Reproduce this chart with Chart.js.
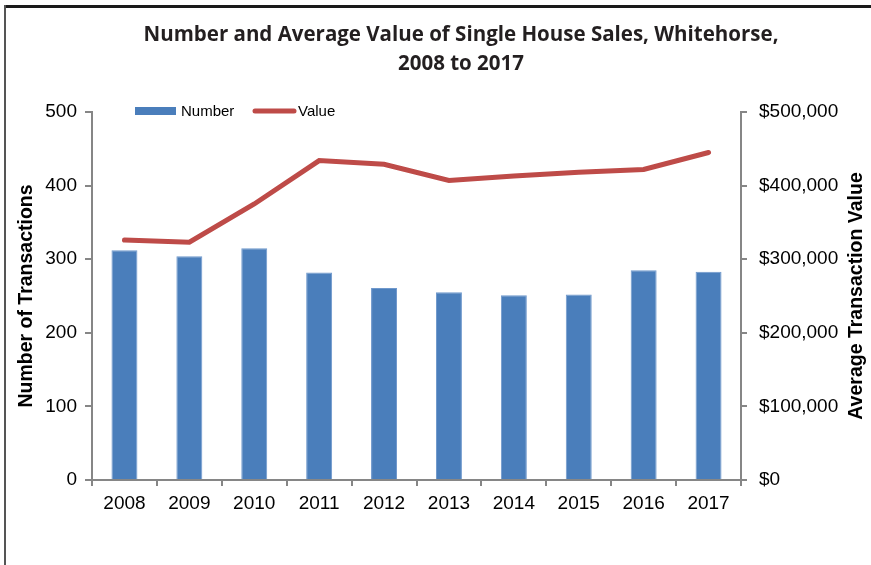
<!DOCTYPE html>
<html>
<head>
<meta charset="utf-8">
<script src="https://cdn.jsdelivr.net/npm/chart.js@4.4.1/dist/chart.umd.min.js"></script>
<style>
  html, body { margin: 0; padding: 0; background: #fff; }
  #wrap { width: 871px; height: 565px; position: relative; }
</style>
</head>
<body>
<div id="wrap"><canvas id="myChart" width="871" height="565"></canvas></div>
<script>
const years = ['2008', '2009', '2010', '2011', '2012', '2013', '2014', '2015', '2016', '2017'];
const salesCount = [312, 304, 315, 282, 261, 255, 251, 252, 285, 283];
const avgValue = [326000, 323000, 375000, 434000, 429000, 407000, 413000, 418000, 422000, 445000];
const titleLines = ['Number and Average Value of Single House Sales, Whitehorse,', '2008 to 2017'];
const leftTitle = 'Number of Transactions';
const rightTitle = 'Average Transaction Value';

const axisGray = '#868686';
const tickFont = { family: '"Liberation Sans", Arial, sans-serif', size: 19 };

// frame, title, legend and right axis title
const decorPlugin = {
    id: 'decor',
    afterDraw(chart) {
        const ctx = chart.ctx;
        const area = chart.chartArea;
        ctx.save();

        // frame lines (top and left)
        ctx.strokeStyle = '#1a1a1a';
        ctx.lineWidth = 3;
        ctx.beginPath();
        ctx.moveTo(4, 6.5);
        ctx.lineTo(chart.width, 6.5);
        ctx.stroke();
        ctx.strokeStyle = '#555';
        ctx.lineWidth = 2;
        ctx.beginPath();
        ctx.moveTo(5, 5);
        ctx.lineTo(5, chart.height);
        ctx.stroke();

        // chart title
        ctx.fillStyle = '#231f20';
        ctx.font = 'bold 20.5px "Open Sans", sans-serif';
        ctx.textAlign = 'center';
        ctx.textBaseline = 'middle';
        ctx.fillText(titleLines[0], 461, 35);
        ctx.fillText(titleLines[1], 461, 64);

        // legend
        const ds = chart.data.datasets;
        const ly = area.top - 1;
        ctx.font = '15px "Liberation Sans", Arial, sans-serif';
        ctx.textAlign = 'left';
        ctx.fillStyle = ds[0].backgroundColor;
        ctx.fillRect(135, ly - 4, 41, 8);
        ctx.fillStyle = '#000';
        ctx.fillText(ds[0].label, 181, ly + 1);
        ctx.strokeStyle = ds[1].borderColor;
        ctx.lineWidth = 5;
        ctx.lineCap = 'round';
        ctx.beginPath();
        ctx.moveTo(255, ly);
        ctx.lineTo(294, ly);
        ctx.stroke();
        ctx.fillText(ds[1].label, 298, ly + 1);

        // right axis title, reading bottom to top
        ctx.font = 'bold 19.5px "Liberation Sans", Arial, sans-serif';
        ctx.textAlign = 'center';
        ctx.translate(857, (area.top + area.bottom) / 2);
        ctx.rotate(-Math.PI / 2);
        ctx.fillText(rightTitle, 0, 0);
        ctx.restore();
    }
};

function initChart() {
    const ctx = document.getElementById('myChart').getContext('2d');
    chart = new Chart(ctx, {
        type: 'bar',
        data: {
            labels: years,
            datasets: [{
                type: 'bar',
                label: 'Number',
                data: salesCount,
                backgroundColor: '#4a7ebb',
                borderColor: '#6f98cc',
                borderWidth: 1,
                categoryPercentage: 1,
                barPercentage: 0.4,
                yAxisID: 'y',
                order: 2
            }, {
                type: 'line',
                label: 'Value',
                data: avgValue,
                borderColor: '#be4b48',
                backgroundColor: '#be4b48',
                borderWidth: 5,
                pointRadius: 0,
                tension: 0,
                borderCapStyle: 'round',
                yAxisID: 'y1',
                order: 1
            }]
        },
        options: {
            responsive: false,
            animation: false,
            layout: { padding: { top: 112, left: 0, right: 0, bottom: 0 } },
            plugins: {
                legend: { display: false },
                title: { display: false },
                tooltip: { enabled: false }
            },
            scales: {
                x: {
                    offset: true,
                    grid: { offset: true, drawOnChartArea: false, tickLength: 6, color: axisGray, lineWidth: 2 },
                    border: { color: axisGray, width: 2 },
                    ticks: { font: tickFont, color: '#000', padding: 6, maxRotation: 0 },
                    afterFit(scale) { scale.height = 85; }
                },
                y: {
                    position: 'left',
                    min: 0,
                    max: 500,
                    ticks: { stepSize: 100, font: tickFont, color: '#000', padding: 8 },
                    grid: { drawOnChartArea: false, tickLength: 7, color: axisGray, lineWidth: 2 },
                    border: { color: axisGray, width: 2 },
                    title: {
                        display: true,
                        text: leftTitle,
                        color: '#000',
                        font: { family: '"Liberation Sans", Arial, sans-serif', size: 19.5, weight: 'bold' },
                        padding: { top: 15, bottom: 0 }
                    },
                    afterFit(scale) { scale.width = 92; }
                },
                y1: {
                    position: 'right',
                    min: 0,
                    max: 500000,
                    ticks: {
                        stepSize: 100000,
                        font: tickFont,
                        color: '#000',
                        padding: 12,
                        callback: (v) => '$' + v.toLocaleString('en-US')
                    },
                    grid: { drawOnChartArea: false, tickLength: 6, color: axisGray, lineWidth: 2 },
                    border: { color: axisGray, width: 2 },
                    afterFit(scale) { scale.width = 130; }
                }
            }
        },
        plugins: [decorPlugin]
    });
}

let chart;
initChart();
</script>
</body>
</html>
